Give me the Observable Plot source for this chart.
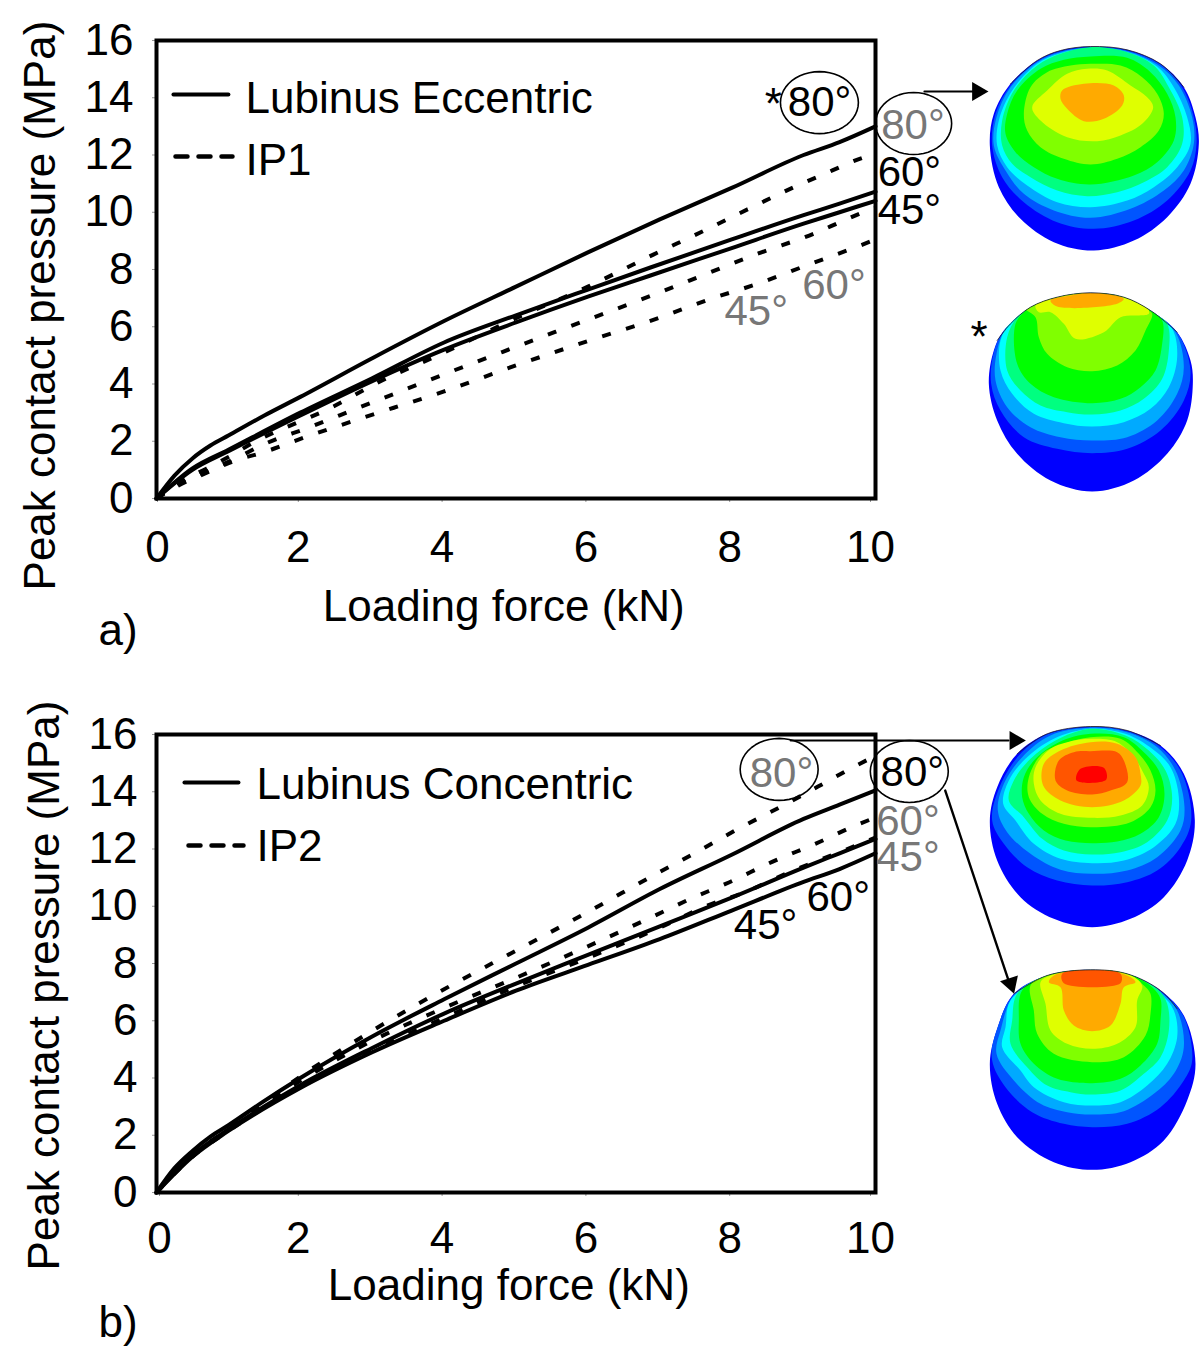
<!DOCTYPE html>
<html><head><meta charset="utf-8">
<script src="https://cdn.jsdelivr.net/npm/d3@7"></script>
<script src="https://cdn.jsdelivr.net/npm/@observablehq/plot@0.6"></script>
<style>
html,body{margin:0;padding:0;background:#fff;}
#page{position:relative;width:1200px;height:1358px;overflow:hidden;background:#fff;}
#page>svg,#page>div{position:absolute;}
</style></head><body><div id="page"></div>
<script>
const FONT = "'Liberation Sans', Arial, sans-serif";
const xTicks = [2, 4, 6, 8];
const yTicks = [0, 2, 4, 6, 8, 10, 12, 14, 16];

// Panel a — solid: Lubinus Eccentric, dashed: IP1
const a80sX = [0,.25,.5,.75,1,1.5,2,3,4,5,6,7,8,9,9.5,10];
const a80sY = [0,.8,1.4,1.85,2.2,2.9,3.55,4.9,6.2,7.4,8.6,9.75,10.85,12,12.45,13];
const a60sX = [0,.5,1,2,3,4,5,6,6.87,8,9,9.5,10];
const a60sY = [0,1.05,1.7,3,4.2,5.45,6.4,7.3,8.07,9.05,9.9,10.3,10.72];
const a45sX = [0,.5,1,2,3,4,5,6,6.87,8,9,9.5,10];
const a45sY = [0,1,1.65,2.9,4.1,5.2,6.15,7.05,7.79,8.75,9.6,10,10.4];
const a80dX = [0,.3,.7,1,1.42,1.77,2.45,3,4,5,6,6.91,7.57,8.22,8.86,9.4,9.75,10];
const a80dY = [0,.55,1.05,1.45,2.05,2.45,3.2,3.95,5.1,6.3,7.4,8.52,9.3,10.1,10.87,11.46,11.84,12.05];
const a60dX = [0,.3,.7,1.1,1.5,2.14,2.84,3.35,4.02,5,6,7.03,7.7,8.37,9.14,9.55,9.89,10];
const a60dY = [0,.5,.95,1.4,1.9,2.5,3.2,3.7,4.36,5.3,6.25,7.23,7.9,8.56,9.25,9.7,10.06,10.15];
const a45dX = [0,.3,.7,1.1,1.47,2.1,2.8,3.3,4,5,6,7,7.68,8.36,9.1,9.82,10];
const a45dY = [0,.45,.9,1.33,1.6,2.17,2.76,3.17,3.74,4.65,5.5,6.32,6.95,7.5,8.2,8.87,9.05];

// Panel b — solid: Lubinus Concentric, dashed: IP2
const b80sX = [0,.25,.5,.75,1,1.5,2,3,4,5,6,7,8,9,9.5,10];
const b80sY = [0,.85,1.45,1.95,2.35,3.2,4,5.45,6.75,8,9.25,10.6,11.8,13.05,13.55,14.05];
const b60sX = [0,.5,1,2,3,4,5,6,7,8,9,9.5,10];
const b60sY = [0,1.3,2.2,3.75,5.05,6.25,7.3,8.3,9.3,10.3,11.35,11.85,12.35];
const b45sX = [0,.5,1,2,3,4,5,6,7,8,9,9.5,10];
const b45sY = [0,1.25,2.15,3.65,4.9,6,7.05,7.95,8.85,9.85,10.85,11.3,11.85];
const b80dX = [0,.5,1,2,3,4,5,6,7,7.52,8.05,8.7,9.2,9.79,10];
const b80dY = [0,1.3,2.2,4.05,5.65,7.1,8.45,9.8,11.2,11.9,12.65,13.5,14.18,14.99,15.25];
const b60dX = [0,.5,1,2,3,4,5,6,6.87,7.41,7.96,8.57,9.17,9.72,10];
const b60dY = [0,1.3,2.2,3.9,5.3,6.45,7.5,8.6,9.6,10.24,10.83,11.56,12.19,12.82,13.1];
const b45dX = [0,.5,1,2,3,4,5,6,7,7.64,8.19,8.86,9.41,9.7,10];
const b45dY = [0,1.25,2.15,3.7,4.95,6.1,7.2,8.2,9.25,10,10.5,11.25,11.8,12.09,12.4];

// Contour colours of the sphere maps, outer band first
const bandColors = ["#0000ff","#0055ff","#00aaff","#00ffff","#00ff80","#00ff00","#80ff00","#dfff00","#ffaa00","#ff5500","#ff0000"];

const sphereA1 = [
 [390,48,500,58,600,100,670,170,705,260,715,340,690,460,620,560,520,630,400,660,280,635,180,565,115,470,88,345,100,250,150,160,230,90,300,60],
 [390,50,500,60,600,102,665,170,700,260,708,340,690,420,620,510,520,570,400,595,290,575,190,515,125,440,95,345,105,250,150,165,230,92,300,62],
 [390,52,500,62,595,105,655,165,695,260,700,340,670,420,610,480,510,535,390,562,280,540,190,490,135,420,100,345,108,260,150,170,230,95,300,65],
 [390,55,500,65,590,108,640,170,680,260,690,340,650,410,580,470,500,510,390,530,290,515,200,465,140,410,110,345,115,270,155,180,230,100,300,68],
 [390,50,500,65,580,105,625,170,665,260,665,340,620,410,550,455,470,485,380,497,290,480,210,440,155,400,125,345,125,270,160,180,230,105,300,70],
 [390,78,500,82,570,125,620,190,645,260,640,330,590,395,520,435,390,462,290,445,220,410,165,365,135,310,140,250,170,180,240,115,310,88],
 [390,100,480,105,545,140,590,190,610,250,595,300,540,350,470,385,390,402,310,385,240,350,200,300,190,250,210,170,260,125,330,105],
 [320,130,380,115,440,120,510,165,560,200,578,230,545,280,480,315,410,332,320,320,240,270,215,230,260,180],
 [305,180,370,160,460,165,490,195,485,225,430,265,370,272,320,235,300,205]
];
const sphereA2 = [
 [390,787,490,800,570,840,650,905,690,990,697,1060,680,1170,620,1270,520,1350,395,1383,270,1350,170,1270,110,1170,85,1060,100,960,130,900,210,830,290,800],
 [130,900,100,965,92,1060,120,1140,190,1220,290,1255,395,1268,500,1255,600,1200,670,1110,690,1020,650,905,570,840,490,800,390,787,290,800,210,830],
 [135,895,108,970,105,1050,140,1130,210,1190,300,1220,395,1230,500,1220,590,1170,650,1090,670,1010,645,905,570,840,490,800,390,787,290,800,210,830],
 [150,875,120,930,120,1020,155,1090,220,1150,310,1178,395,1188,490,1175,570,1135,625,1070,650,980,635,895,570,840,490,800,390,787,290,800,210,830],
 [170,860,140,920,140,1020,180,1080,240,1125,320,1145,395,1152,480,1140,550,1105,605,1045,625,960,620,880,570,840,490,800,390,787,290,800,210,830],
 [195,840,165,880,170,1000,210,1060,280,1100,395,1118,480,1105,540,1070,585,1020,605,940,605,870,570,840,490,800,390,787,290,800,210,830],
 [195,835,225,860,235,920,260,970,320,1010,395,1022,470,1005,525,960,555,900,575,850,550,835,490,800,390,787,290,800,220,820],
 [225,825,290,800,390,787,490,800,560,830,565,850,480,860,430,905,345,925,310,880,270,845,235,845],
 [270,810,330,795,390,787,450,792,490,805,470,820,290,828]
];
const sphereB1 = [
 [390,48,500,60,600,105,670,190,703,330,680,450,610,560,510,625,395,650,280,625,180,560,110,450,88,330,110,230,170,130,260,70],
 [390,50,500,62,600,110,665,190,692,330,660,410,590,480,500,515,395,525,290,510,200,470,130,400,95,330,115,235,175,135,260,72],
 [390,52,500,65,590,110,645,180,672,290,660,360,590,440,500,480,395,490,300,478,210,430,140,365,112,300,130,220,185,140,270,75],
 [390,55,495,70,575,115,630,170,655,260,645,340,580,410,490,450,395,458,300,445,220,400,165,330,128,280,145,210,195,145,280,85],
 [390,55,495,75,565,120,615,180,635,260,620,330,560,395,480,425,395,432,310,420,245,385,190,320,145,270,160,210,210,145,285,90],
 [390,70,490,80,550,125,595,180,612,250,595,320,540,370,470,393,395,398,315,390,250,360,205,310,185,260,190,200,225,145,295,95],
 [390,80,480,85,535,130,570,180,585,240,570,290,510,335,395,350,310,340,245,310,205,260,205,200,245,130,310,100],
 [390,85,470,95,520,140,550,190,565,230,545,285,480,315,395,322,300,310,240,270,220,220,225,170,270,115,320,95],
 [390,95,470,100,525,140,540,190,540,225,490,270,395,290,300,270,248,225,250,160,300,120],
 [390,122,470,125,490,150,500,215,450,240,395,252,320,240,285,210,295,150,340,125],
 [360,175,430,172,437,208,348,210]
];
const sphereB2 = [
 [390,778,500,790,600,840,670,915,705,1060,680,1170,610,1290,510,1355,395,1378,280,1355,170,1280,110,1180,88,1060,110,955,160,850,260,795],
 [160,852,105,960,95,1050,135,1130,215,1205,310,1240,395,1250,500,1240,600,1190,670,1110,695,1050,668,915,600,842,500,790,390,778,260,795],
 [160,855,120,960,108,1030,160,1110,240,1180,320,1205,395,1212,490,1202,580,1150,640,1090,670,1010,650,900,600,845,500,790,390,778,260,795],
 [150,870,135,950,125,1010,180,1080,220,1130,310,1175,395,1185,480,1175,560,1125,620,1060,650,980,640,900,600,850,500,790,390,778,260,795],
 [170,850,155,930,150,1000,200,1070,260,1125,330,1145,395,1152,480,1140,550,1090,600,1040,625,960,620,880,590,835,500,790,390,778,260,795],
 [185,840,175,930,180,1000,220,1060,290,1105,395,1118,480,1105,540,1065,590,1000,600,930,600,865,575,830,500,790,390,778,260,795],
 [210,825,220,900,230,970,280,1030,395,1055,490,1040,555,975,570,910,570,850,550,825,500,790,390,778,260,795],
 [240,815,255,880,270,960,320,1000,395,1015,470,1000,525,950,530,870,545,825,500,790,390,778,270,795],
 [265,815,300,830,310,900,340,945,395,962,450,945,480,880,490,830,525,815,500,795,390,778,280,795],
 [305,790,390,778,480,790,480,818,310,818]
];
// Thin dark rim along the top of each map
const rimA2 = [110,930,150,880,210,830,290,800,390,787,490,800,570,840,650,905];
const rimB1 = [170,130,260,70,390,48,500,60,600,105];
const rimB2 = [160,850,260,795,390,778,500,790,600,840,650,895];
const rimA1 = [150,160,230,90,300,60,390,48,500,58,600,100,670,170];

const pairs = (a, extra = {}) => d3.range(0, a.length, 2).map(i => ({x: a[i], y: a[i + 1], ...extra}));
const curves = (list) => list.flatMap(([name, kind, xs, ys]) => xs.map((x, i) => ({name, kind, x, y: ys[i]})));
const ellipse = (cx, cy, rx, ry) => d3.range(0, 48).map(i => ({x: cx + rx * Math.cos(i / 48 * 2 * Math.PI), y: cy + ry * Math.sin(i / 48 * 2 * Math.PI)}));

function panel(o) {
  const all = curves(o.curves);
  const fs = 44;
  const axisOpts = {tickSize: 4, tickPadding: o.xpad, fontSize: fs, stroke: "#999", fill: "#000", label: null};
  return Plot.plot({
    width: 1200, height: o.height,
    marginTop: o.mt, marginBottom: o.mb, marginLeft: 156, marginRight: 325,
    x: {domain: [0, 10]}, y: {domain: [0, 16]},
    style: {fontFamily: FONT, background: "transparent", overflow: "visible"},
    marks: [
      Plot.axisX({...axisOpts, ticks: [0], dx: o.zeroDx}),
      Plot.axisX({...axisOpts, ticks: xTicks, dx: -2}),
      Plot.axisX({...axisOpts, ticks: [10], dx: -5}),
      Plot.axisY({ticks: yTicks, tickSize: 4, tickPadding: o.ypad, fontSize: fs, stroke: "#999", fill: "#000", label: null}),
      Plot.line(all.filter(d => d.kind === "d"), {x: "x", y: "y", z: "name", stroke: "#000", strokeWidth: 4, strokeDasharray: "9,16", curve: "monotone-x", strokeLinecap: "butt"}),
      Plot.line(all.filter(d => d.kind === "s"), {x: "x", y: "y", z: "name", stroke: "#000", strokeWidth: 4, curve: "monotone-x"}),
      Plot.frame({stroke: "#000", strokeWidth: 4}),
      // legend
      Plot.line(o.legendSolid, {x: "x", y: "y", stroke: "#000", strokeWidth: 4}),
      Plot.line(o.legendDash, {x: "x", y: "y", stroke: "#000", strokeWidth: 4.5, strokeDasharray: "12,11"}),
      // ellipses
      ...o.ellipses.map(e => Plot.line(ellipse(...e), {x: "x", y: "y", stroke: "#000", strokeWidth: 1.6, curve: "linear-closed"})),
      // leader arrows
      ...o.arrows.map(a => Plot.line(a.line, {x: "x", y: "y", stroke: "#000", strokeWidth: a.w})),
      Plot.dot(o.arrows, {x: d => d.head[0], y: d => d.head[1], r: 7, symbol: "triangle", rotate: "rot", fill: "#000", stroke: "none"}),
      // text
      Plot.text(o.labels, {x: "x", y: "y", text: "t", fill: "c", fontSize: fs, textAnchor: "start"}),
      Plot.text(o.angles, {x: "x", y: "y", text: "t", fill: "c", fontSize: 42, textAnchor: "start"}),
      Plot.text(o.centered, {x: "x", y: "y", text: "t", fill: "#000", fontSize: fs, textAnchor: "middle", rotate: "r"})
    ]
  });
}

const chartA = panel({
  height: 660, mt: 40, mb: 162, xpad: 28, ypad: 19, zeroDx: 1,
  curves: [["80s","s",a80sX,a80sY],["60s","s",a60sX,a60sY],["45s","s",a45sX,a45sY],["80d","d",a80dX,a80dY],["60d","d",a60dX,a60dY],["45d","d",a45dX,a45dY]],
  legendSolid: [{x:.236,y:14.11},{x:1,y:14.11}],
  legendDash: [{x:.264,y:11.95},{x:1.057,y:11.95}],
  ellipses: [[9.22,13.83,.542,1.083],[10.53,13.1,.529,1.083]],
  arrows: [{line:[{x:10.68,y:14.22},{x:11.4,y:14.22}], w:2, head:[11.42,14.22], rot:90}],
  labels: [
    {x:1.238,y:13.97,t:"Lubinus Eccentric",c:"#000"},
    {x:1.238,y:11.81,t:"IP1",c:"#000"},
    {x:8.46,y:13.75,t:"*",c:"#000"},
    {x:11.32,y:5.6,t:"*",c:"#000"},
    {x:-.807,y:-4.61,t:"a)",c:"#000"}
  ],
  angles: [
    {x:8.78,y:13.83,t:"80°",c:"#000"},
    {x:10.08,y:13.03,t:"80°",c:"#777"},
    {x:10.03,y:11.39,t:"60°",c:"#000"},
    {x:10.03,y:10.06,t:"45°",c:"#000"},
    {x:8.98,y:7.44,t:"60°",c:"#777"},
    {x:7.9,y:6.53,t:"45°",c:"#777"}
  ],
  centered: [
    {x:4.83,y:-3.77,t:"Loading force (kN)",r:0},
    {x:-1.613,y:6.74,t:"Peak contact pressure (MPa)",r:-90}
  ]
});
chartA.style.left = "0px"; chartA.style.top = "0px";

const chartB = panel({
  height: 698, mt: 74, mb: 166, xpad: 25, ypad: 15, zeroDx: 3,
  curves: [["80s","s",b80sX,b80sY],["60s","s",b60sX,b60sY],["45s","s",b45sX,b45sY],["80d","d",b80dX,b80dY],["60d","d",b60dX,b60dY],["45d","d",b45dX,b45dY]],
  legendSolid: [{x:.389,y:14.32},{x:1.14,y:14.32}],
  legendDash: [{x:.445,y:12.12},{x:1.21,y:12.12}],
  ellipses: [[8.66,14.78,.542,1.083],[10.47,14.71,.542,1.083]],
  arrows: [
    {line:[{x:8.82,y:15.79},{x:11.85,y:15.79}], w:2, head:[11.94,15.79], rot:90},
    {line:[{x:10.97,y:14.04},{x:11.85,y:7.41}], w:2.4, head:[11.88,7.3], rot:161.6}
  ],
  labels: [
    {x:1.39,y:14.25,t:"Lubinus Concentric",c:"#000"},
    {x:1.39,y:12.09,t:"IP2",c:"#000"},
    {x:-.807,y:-4.54,t:"b)",c:"#000"}
  ],
  angles: [
    {x:8.25,y:14.64,t:"80°",c:"#777"},
    {x:10.07,y:14.67,t:"80°",c:"#000"},
    {x:10.01,y:12.96,t:"60°",c:"#777"},
    {x:10.01,y:11.7,t:"45°",c:"#777"},
    {x:9.04,y:10.31,t:"60°",c:"#000"},
    {x:8.03,y:9.33,t:"45°",c:"#000"}
  ],
  centered: [
    {x:4.9,y:-3.25,t:"Loading force (kN)",r:0},
    {x:-1.558,y:7.23,t:"Peak contact pressure (MPa)",r:-90}
  ]
});
chartB.style.left = "0px"; chartB.style.top = "660px";

function spheres(top, maps, rims, id) {
  const pts = maps.flatMap((bands, m) => bands.flatMap((b, i) => pairs(b, {band: m + "-" + i, color: bandColors[i]})));
  const rimPts = rims.flatMap((r, m) => pairs(r, {rim: m}));
  const p = Plot.plot({
    width: 240, height: 480, margin: 0,
    x: {domain: [0, 720], axis: null},
    y: {domain: [1440, 0], axis: null},
    style: {background: "transparent"},
    marks: [
      Plot.line(pts, {x: "x", y: "y", z: "band", fill: "color", stroke: "none", curve: "catmull-rom-closed"}),
      Plot.line(rimPts, {x: "x", y: "y", z: "rim", stroke: "#222", strokeWidth: .8, curve: "catmull-rom"})
    ]
  });
  // each contour band stays inside the outline of its own map
  const paths = [...p.querySelectorAll("path")];
  const NS = "http://www.w3.org/2000/svg";
  let start = 0;
  maps.forEach((bands, m) => {
    const cp = document.createElementNS(NS, "clipPath");
    cp.setAttribute("id", id + "-" + m);
    const outline = document.createElementNS(NS, "path");
    outline.setAttribute("d", paths[start].getAttribute("d"));
    cp.append(outline);
    p.append(cp);
    for (let i = start + 1; i < start + bands.length; i++) paths[i].setAttribute("clip-path", `url(#${id}-${m})`);
    start += bands.length;
  });
  p.style.left = "960px"; p.style.top = top + "px";
  return p;
}

const page = document.getElementById("page");
page.append(chartA, chartB,
  spheres(30, [sphereA1, sphereA2], [rimA2, rimA1], "sa"),
  spheres(710, [sphereB1, sphereB2], [rimB1, rimB2], "sb"));
</script></body></html>
